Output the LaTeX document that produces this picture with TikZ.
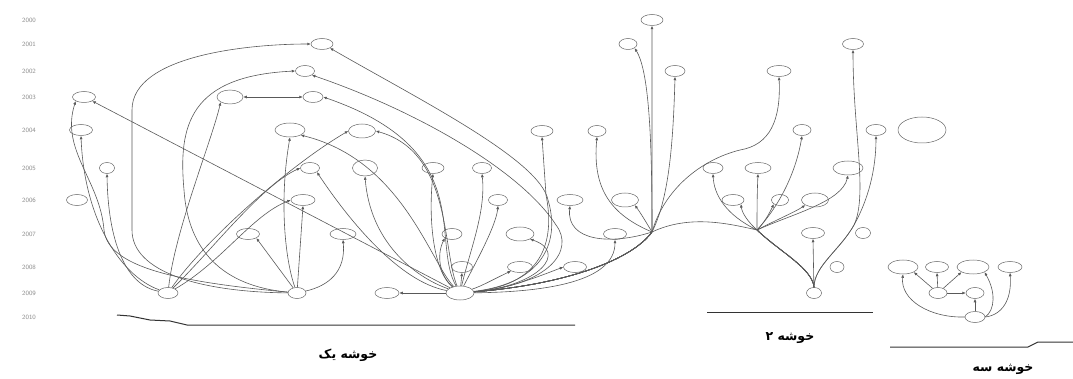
\documentclass[tikz,border=0pt]{standalone}
\usepackage{fontspec}
\newfontfamily\arabicfont[Script=Arabic]{DejaVu Sans}
\TeXXeTstate=1
\usetikzlibrary{shapes.geometric,arrows.meta}
\tikzset{
  nd/.style={draw=black!60, line width=0.5pt, ellipse, inner sep=0pt, minimum width=#1, minimum height=11pt},
  bg/.style={nd=#1, minimum height=14pt},
  e/.style={draw=black!65, line width=0.6pt, -{Latex[length=3.5pt,width=3pt]}},
  ee/.style={e, {Latex[length=3.5pt,width=3pt]}-{Latex[length=3.5pt,width=3pt]}},
  yr/.style={font=\sffamily\fontsize{6.5}{7}\selectfont, text=black!45, anchor=center},
  base/.style={draw=black!80, line width=1pt},
  cl/.style={font=\arabicfont\bfseries\fontsize{12.5}{14}\selectfont, anchor=center}
}
\begin{document}
\begin{tikzpicture}[x=1pt,y=-1pt]
\useasboundingbox (0,0) rectangle (1073,379);
% year axis
\foreach \t/\y in {2000/20,2001/44,2002/71,2003/97,2004/130,2005/168,2006/200,2007/234,2008/267,2009/293,2010/317}
  \node[yr] (y\t) at (29,\y) {\t};
% ---------- nodes ----------
\node[nd=22pt] (n652) at (652,20) {};
\node[nd=22pt] (a322) at (322,44) {};
\node[nd=18pt] (b628) at (628,44) {};
\node[nd=21pt] (c853) at (853,44) {};
\node[nd=19pt] (a305) at (305,71) {};
\node[nd=20pt] (b675) at (675,71) {};
\node[nd=24pt] (c779) at (779,71) {};
\node[nd=23pt] (a84) at (84,97) {};
\node[bg=26pt] (a230) at (230,97) {};
\node[nd=20pt] (a313) at (313,97) {};
\node[nd=23pt] (a81) at (81,130) {};
\node[bg=30pt] (a290) at (290,130) {};
\node[bg=27pt] (a362) at (362,131) {};
\node[nd=22pt] (b542) at (542,131) {};
\node[nd=18pt] (b597) at (597,131) {};
\node[nd=18pt] (c802) at (802,130) {};
\node[nd=20pt] (c876) at (876,130) {};
\node[draw=black!60, line width=0.5pt, ellipse, inner sep=0pt, minimum width=48pt, minimum height=26pt] (i922) at (922,130) {};
\node[nd=15pt] (a107) at (107,168) {};
\node[nd=19pt] (a310) at (310,168) {};
\node[bg=25pt, minimum height=16pt] (a365) at (365,168) {};
\node[nd=22pt] (a433) at (433,168) {};
\node[nd=19pt] (a482) at (482,168) {};
\node[nd=20pt] (c713) at (713,168) {};
\node[nd=26pt] (c758) at (758,168) {};
\node[bg=30pt] (c848) at (848,168) {};
\node[nd=21pt] (i77) at (77,200) {};
\node[nd=24pt] (a303) at (303,200) {};
\node[nd=19pt] (a498) at (498,200) {};
\node[nd=26pt] (b570) at (570,200) {};
\node[bg=27pt] (b625) at (625,200) {};
\node[nd=22pt] (c733) at (733,200) {};
\node[nd=17pt] (c780) at (780,200) {};
\node[bg=27pt] (c815) at (815,200) {};
\node[nd=23pt] (a248) at (248,234) {};
\node[nd=26pt] (a343) at (343,234) {};
\node[nd=20pt] (a452) at (452,234) {};
\node[bg=28pt] (a520) at (520,234) {};
\node[nd=23pt] (b615) at (615,234) {};
\node[nd=23pt] (c813) at (813,233) {};
\node[nd=15pt] (i863) at (863,233) {};
\node[nd=21pt] (a462) at (462,267) {};
\node[nd=25pt] (a520b) at (520,267) {};
\node[nd=23pt] (a575) at (575,267) {};
\node[nd=14pt] (i837) at (837,267) {};
\node[bg=30pt] (d903) at (903,267) {};
\node[nd=23pt] (d937) at (937,267) {};
\node[bg=32pt] (d973) at (973,267) {};
\node[nd=24pt] (d1010) at (1010,267) {};
\node[nd=20pt] (S1) at (168,293) {};
\node[nd=18pt] (S2) at (297,293) {};
\node[bg=28pt] (S3) at (460,293) {};
\node[nd=24pt] (a387) at (387,293) {};
\node[nd=15pt] (S4) at (814,293) {};
\node[nd=18pt] (d938) at (938,293) {};
\node[nd=18pt] (d975) at (975,293) {};
\node[nd=20pt] (d975b) at (975,317) {};
\coordinate (H) at (652,232);
\coordinate (J) at (757,230);
% ---------- edges from S1 ----------
\draw[e] (S1) .. controls (118,275) and (84,215) .. (a81.south);
\draw[e] (S1) .. controls (125,285) and (108,240) .. (a107.south);
\draw[e] (S1) .. controls (175,230) and (212,140) .. (a230.south west);
\draw[e] (S1) .. controls (205,240) and (290,165) .. (a362.west);
\draw[e] (S1) .. controls (212,250) and (262,185) .. (a310.west);
\draw[e] (S1) .. controls (222,262) and (252,215) .. (a303.west);
% ---------- edges from S2 ----------
\draw[e] (S2) .. controls (200,292) and (132,272) .. (132,230) -- (132,110) .. controls (132,55) and (250,44) .. (a322.west);
\draw[e] (S2) .. controls (222,286) and (188,250) .. (184,190) .. controls (178,125) and (190,76) .. (a305.west);
\draw[e] (S2) .. controls (180,282) and (108,268) .. (104,230) .. controls (100,180) and (60,150) .. (a84.south west);
\draw[e] (S2) .. controls (285,260) and (279,200) .. (a290.south);
\draw[e] (S2) -- (a303.south);
\draw[e] (S2) -- (a248.south east);
\draw[e] (S2) .. controls (328,286) and (346,272) .. (a343.south);
% ---------- edges from S3 ----------
\draw[e] (S3) -- (a84.south east);
\draw[e] (S3) -- (a387.east);
\draw[e] (S3) -- (a462.south);
\draw[e] (S3) .. controls (440,276) and (436,256) .. (a452.south west);
\draw[e] (S3) .. controls (434,272) and (428,222) .. (a433.south);
\draw[e] (S3) .. controls (470,250) and (486,212) .. (a482.south);
\draw[e] (S3) .. controls (476,262) and (496,226) .. (a498.south);
\draw[e] (S3) .. controls (412,276) and (370,240) .. (a365.south);
\draw[e] (S3) .. controls (482,286) and (496,278) .. (a520b.south west);
\draw[e] (S3) .. controls (505,290) and (540,276) .. (a575.west);
\draw[e] (S3) .. controls (545,292) and (615,282) .. (b615.south);
\draw[e] (S3) .. controls (540,286) and (568,252) .. (a520.south east);
\draw[e] (S3) .. controls (545,283) and (560,240) .. (548,200) .. controls (540,160) and (420,100) .. (a322.south east);
\draw[e] (S3) .. controls (550,285) and (575,250) .. (556,225) .. controls (522,172) and (420,112) .. (a305.south east);
\draw[e] (S3) .. controls (548,284) and (554,235) .. (546,195) -- (b542.south);
\draw[ee] (a313.west) -- (a230.east);
\draw[e] (S3) .. controls (430,240) and (478,150) .. (a313.east);
\draw[e] (S3) .. controls (442,250) and (452,152) .. (a362.east);
\draw[e] (S3) .. controls (430,262) and (402,160) .. (a290.south east);
\draw[e] (S3) .. controls (400,282) and (350,222) .. (a310.south east);
% bundle through hub H
\draw[e] (S3) .. controls (560,285) and (630,262) .. (H) .. controls (652,180) and (652,60) .. (n652.south);
\draw[e] (S3) .. controls (560,285) and (630,262) .. (H) .. controls (652,150) and (650,72) .. (b628.south east);
\draw[e] (S3) .. controls (560,285) and (630,262) .. (H) .. controls (668,200) and (673,150) .. (b675.south);
\draw[e] (S3) .. controls (560,285) and (630,262) .. (H) .. controls (612,215) and (592,190) .. (b597.south);
\draw[e] (S3) .. controls (560,285) and (630,262) .. (H) .. controls (646,222) and (640,212) .. (b625.south east);
\draw[e] (S3) .. controls (560,285) and (630,262) .. (H) .. controls (612,245) and (566,242) .. (b570.south);
\draw[e] (S3) .. controls (560,285) and (630,262) .. (H) .. controls (664,190) and (700,160) .. (740,150) .. controls (770,145) and (781,120) .. (c779.south);
\draw[e] (S3) .. controls (560,285) and (630,262) .. (H) .. controls (690,214) and (730,224) .. (J) .. controls (726,215) and (714,195) .. (c713.south);
% ---------- edges from S4 ----------
\draw[e] (S4) -- (c813.south);
\draw[e] (S4.north) .. controls (814,266) and (840,250) .. (854,225) .. controls (868,195) and (853,130) .. (c853.south);
\draw[e] (S4.north) .. controls (814,266) and (840,250) .. (854,225) .. controls (868,200) and (876,170) .. (c876.south);
\draw[e] (S4.north) .. controls (812,268) and (780,252) .. (J) .. controls (748,222) and (742,213) .. (c733.south east);
\draw[e] (S4.north) .. controls (812,268) and (780,252) .. (J) .. controls (757,215) and (757,195) .. (c758.south);
\draw[e] (S4.north) .. controls (812,268) and (780,252) .. (J) .. controls (765,222) and (770,212) .. (c780.south west);
\draw[e] (S4.north) .. controls (812,268) and (780,252) .. (J) .. controls (776,220) and (795,212) .. (c815.south west);
\draw[e] (S4.north) .. controls (812,268) and (780,252) .. (J) .. controls (792,214) and (842,202) .. (c848.south);
\draw[e] (S4.north) .. controls (812,268) and (780,252) .. (J) .. controls (780,205) and (796,172) .. (c802.south);
% ---------- cluster 3 ----------
\draw[e] (d975b.west) .. controls (930,318) and (900,300) .. (d903.south);
\draw[e] (d938) -- (d903.south east);
\draw[e] (d938) -- (d937.south);
\draw[e] (d938) -- (d973.south west);
\draw[e] (d938) -- (d975);
\draw[e] (d975b) -- (d975);
\draw[e] (d975b.east) .. controls (1002,315) and (1012,300) .. (d1010.south);
\draw[e] (d975b.east) .. controls (995,310) and (996,292) .. (d973.south east);
% ---------- baselines ----------
\draw[base] (117,315) -- (130,316) -- (150,320) -- (170,321) -- (187,325) -- (575,325);
\draw[base] (707,312) -- (873,312);
\draw[base] (890,347) -- (1028,347) -- (1038,342) -- (1073,342);
% ---------- cluster labels ----------
\node[cl] (k1) at (348,355) {\beginR خوشه یک\endR};
\node[cl] (k2) at (790,338) {\beginR خوشه ۲\endR};
\node[cl] (k3) at (1003,369) {\beginR خوشه سه\endR};
\end{tikzpicture}
\end{document}
